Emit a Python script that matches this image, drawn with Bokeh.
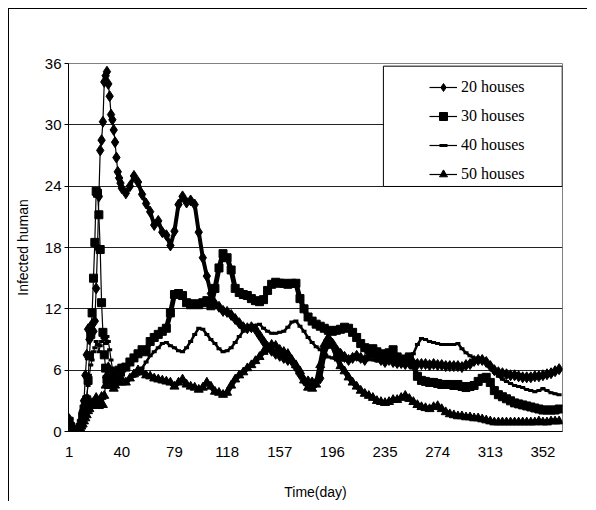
from bokeh.plotting import figure
from bokeh.models import FixedTicker, Legend, LegendItem, BoxAnnotation
from bokeh.embed import file_html
from bokeh.resources import INLINE

# ---- data -------------------------------------------------------------
# daily values for days 1..40, then every third day 43..364
days = list(range(1, 41)) + list(range(43, 365, 3))

houses20 = [
    1.2, 0.6, 0.3, 0.1, 0.0, 0.0, 0.1, 0.2, 0.5, 1.0, 2.0, 3.0, 5.5, 7.5, 10.0, 9.0, 9.5, 10.5, 9.8, 10.8,
    14.0, 18.0, 23.0, 27.5, 28.5, 30.3, 34.2, 34.8, 35.2, 34.0, 32.8, 31.0, 30.5, 29.5, 28.3, 26.8, 25.4, 24.8, 24.3, 23.8,
    23.3, 24.0, 25.0, 24.4, 23.2, 22.3, 21.5, 20.2, 20.6, 19.5, 19.2, 18.2,
    19.6, 22.2, 23.0, 22.4, 22.6, 22.2, 19.5, 17.0, 15.2, 13.5, 12.5, 12.2,
    11.8, 11.7, 11.4, 11.0, 10.6, 10.2, 10.1, 10.2, 10.0, 9.4, 8.8, 8.2,
    7.9, 7.6, 7.4, 7.2, 7.0, 6.9, 6.3, 5.6, 5.0, 4.9, 4.8, 4.8,
    5.2, 7.5, 8.6, 8.6, 8.0, 7.6, 7.3, 7.0, 7.2, 7.4, 7.2, 7.0,
    7.4, 7.6, 7.3, 7.0, 6.8, 7.0, 6.8, 6.7, 6.7, 6.6, 6.7, 6.7,
    6.6, 6.6, 6.6, 6.5, 6.6, 6.5, 6.5, 6.4, 6.4, 6.4, 6.4, 6.3,
    6.5, 6.6, 6.9, 7.0, 7.0, 6.8, 6.4, 6.0, 5.8, 5.7, 5.6, 5.5,
    5.5, 5.4, 5.3, 5.3, 5.3, 5.4, 5.4, 5.5, 5.6, 5.7, 5.9, 6.1,
]

houses30 = [
    1.0, 0.5, 0.2, 0.0, 0.0, 0.0, 0.1, 0.2, 0.4, 0.8, 1.5, 2.2, 2.8, 3.1, 5.0, 7.4, 9.5, 11.6, 15.0, 18.5,
    23.5, 23.3, 21.2, 17.8, 12.6, 9.7, 7.5, 6.2, 5.1, 4.6, 4.8, 5.2, 4.8, 5.3, 5.6, 5.4, 5.8, 6.0, 5.8, 6.2,
    6.3, 6.8, 7.2, 7.6, 8.0, 7.8, 8.8, 9.2, 9.5, 9.8, 10.1, 11.6,
    13.4, 13.5, 13.3, 12.6, 12.4, 12.5, 12.4, 12.6, 12.8, 12.3, 14.0, 16.0,
    17.4, 17.0, 15.8, 14.0, 13.6, 13.4, 13.3, 13.0, 12.8, 12.7, 12.9, 13.8,
    14.4, 14.6, 14.5, 14.5, 14.4, 14.5, 14.5, 13.0, 12.0, 11.2, 10.8, 10.5,
    10.3, 10.1, 9.9, 9.8, 9.9, 10.0, 10.2, 10.1, 9.7, 9.2, 8.6, 8.2,
    8.0, 8.1, 7.8, 7.6, 7.5, 7.7, 8.0, 7.3, 7.0, 7.1, 7.3, 6.5,
    5.4, 5.0, 4.9, 4.8, 4.8, 4.7, 4.6, 4.6, 4.6, 4.5, 4.6, 4.4,
    4.3, 4.4, 4.5, 4.9, 5.2, 5.3, 4.8, 4.0, 3.6, 3.4, 3.2, 3.0,
    2.8, 2.7, 2.6, 2.5, 2.4, 2.3, 2.2, 2.1, 2.1, 2.1, 2.1, 2.2,
]

houses40 = [
    1.0, 0.6, 0.3, 0.1, 0.0, 0.0, 0.1, 0.2, 0.4, 0.7, 1.2, 1.8, 2.5, 3.5, 4.5, 5.5, 6.5, 7.0, 7.8, 8.2,
    8.8, 8.5, 7.8, 8.4, 8.8, 9.2, 9.0, 8.6, 9.3, 8.8, 8.0, 7.0, 6.2, 5.6, 5.2, 5.0, 5.3, 5.6, 5.4, 5.2,
    5.0, 5.2, 5.4, 5.6, 6.2, 6.8, 7.4, 7.8, 8.2, 8.6, 8.7, 8.4,
    8.2, 7.9, 7.8, 8.2, 8.8, 9.5, 10.1, 10.0, 9.5, 9.0, 8.6, 8.1,
    7.8, 7.9, 8.2, 8.7, 9.3, 9.8, 10.2, 10.3, 10.4, 10.5, 10.1, 9.8,
    9.6, 9.6, 9.7, 9.8, 10.2, 10.7, 10.8, 10.3, 9.8, 9.2, 8.7, 8.3,
    8.0, 7.6, 7.3, 7.2, 7.0, 7.0, 7.0, 7.1, 7.2, 7.1, 7.0, 7.0,
    7.1, 7.0, 6.9, 7.0, 7.1, 7.2, 7.3, 7.2, 7.1, 7.2, 7.4, 7.6,
    8.5, 9.1, 9.0, 8.8, 8.7, 8.6, 8.5, 8.5, 8.5, 8.5, 8.6, 8.1,
    7.7, 7.4, 7.2, 7.1, 7.0, 6.7, 6.3, 5.8, 5.4, 5.1, 4.9, 4.7,
    4.5, 4.4, 4.3, 4.1, 4.0, 3.9, 4.0, 4.2, 4.0, 3.8, 3.7, 3.6,
]

houses50 = [
    1.0, 0.6, 0.3, 0.1, 0.0, 0.0, 0.1, 0.2, 0.3, 0.5, 0.7, 1.0, 1.3, 1.6, 2.0, 2.2, 2.5, 2.8, 2.6, 3.0,
    3.3, 2.8, 2.5, 3.0, 3.4, 2.6, 3.5, 4.5, 5.5, 6.3, 6.0, 5.2, 4.6, 4.2, 4.5, 5.0, 4.8, 5.2, 5.0, 4.8,
    4.8, 5.2, 5.6, 6.0, 5.8, 5.5, 5.4, 5.2, 5.1, 5.0, 4.9, 4.8,
    4.4, 4.8, 5.1, 4.6, 4.4, 4.3, 4.1, 4.3, 4.8, 4.4, 3.9, 3.8,
    3.6, 3.8, 4.5, 5.1, 5.5, 5.8, 6.2, 6.5, 6.9, 7.3, 7.8, 8.3,
    8.5, 8.4, 8.0, 7.8, 7.6, 7.0, 6.5, 5.9, 5.0, 4.3, 4.2, 4.6,
    6.5, 8.5, 9.2, 8.4, 7.4, 6.4, 5.9, 5.3, 4.8, 4.4, 4.0, 3.7,
    3.5, 3.3, 3.0, 2.9, 2.8, 2.9, 3.1, 3.1, 3.3, 3.5, 3.2, 2.9,
    2.6, 2.4, 2.3, 2.2, 2.4, 2.5, 2.2, 1.9, 1.7, 1.6, 1.5, 1.5,
    1.4, 1.4, 1.3, 1.3, 1.2, 1.1, 1.0, 0.9, 0.9, 0.9, 0.9, 0.9,
    0.9, 0.9, 0.9, 0.9, 0.9, 0.9, 1.0, 0.9, 0.9, 1.0, 1.0, 1.0,
]

series_names = ["20 houses", "30 houses", "40 houses", "50 houses"]
x_ticks = [1, 40, 79, 118, 157, 196, 235, 274, 313, 352]
y_ticks = [0, 6, 12, 18, 24, 30, 36]

# ---- figure -----------------------------------------------------------
p = figure(width=579, height=493, x_range=(0.5, 366.5), y_range=(0, 36),
           output_backend="svg", toolbar_location=None,
           min_border_left=59, min_border_right=26, min_border_top=54, min_border_bottom=71)
p.styles = {"border-left": "1px solid black", "border-top": "1px solid black",
            "margin-left": "8px", "margin-top": "8px"}

p.background_fill_color = "white"
p.border_fill_color = "white"
p.outline_line_color = "#808080"
p.outline_line_width = 1

p.xgrid.grid_line_color = None
p.ygrid.grid_line_color = "#222222"
p.ygrid.grid_line_width = 1
p.ygrid.ticker = FixedTicker(ticks=y_ticks)

p.xaxis.ticker = FixedTicker(ticks=x_ticks)
p.yaxis.ticker = FixedTicker(ticks=y_ticks)
for ax in (p.xaxis[0], p.yaxis[0]):
    ax.axis_line_color = "black"
    ax.axis_line_width = 1
    ax.minor_tick_line_color = None
    ax.major_label_text_font = "Liberation Sans"
    ax.major_label_text_font_size = "15px"
    ax.major_label_text_color = "black"
    ax.axis_label_text_font = "Liberation Sans"
    ax.axis_label_text_font_size = "14px"
    ax.axis_label_text_font_style = "normal"
    ax.axis_label_text_color = "black"

p.xaxis.major_tick_line_color = None
p.xaxis.major_tick_out = 0
p.xaxis.major_tick_in = 0
p.xaxis.major_label_standoff = 15
p.xaxis.axis_label = "Time(day)"
p.xaxis.axis_label_standoff = 24

p.yaxis.major_tick_line_color = "black"
p.yaxis.major_tick_out = 4
p.yaxis.major_tick_in = 0
p.yaxis.major_label_standoff = 3
p.yaxis.axis_label = "Infected human"
p.yaxis.axis_label_standoff = 11

# ---- series -----------------------------------------------------------
items = []
styles = [
    dict(marker="diamond", size=11, line_width=1, band=4),
    dict(marker="square", size=8, line_width=1, band=5),
    dict(marker="dash", size=5, line_width=3, band=2.5),
    dict(marker="triangle", size=9, line_width=1, band=5),
]
for name, vals, st in zip(series_names, [houses20, houses30, houses40, houses50], styles):
    ln = p.line(days, vals, line_color="black", line_width=1.2)
    # denser, smoother band for the slowly varying part of each series
    p.line(days[39:], vals[39:], line_color="black", line_width=st["band"])
    sc = p.scatter(days, vals, marker=st["marker"], size=st["size"],
                   fill_color="black", line_color="black", line_width=st["line_width"])
    items.append(LegendItem(label=name, renderers=[ln, sc]))

# legend frame (box) drawn separately, legend entries transparent on top
box = BoxAnnotation(left=233.8, right=366.3, bottom=23.97, top=35.74,
                    fill_color="white", fill_alpha=1.0,
                    line_color="black", line_width=1, line_alpha=1.0)
p.add_layout(box)

legend = Legend(items=items, location=(361, 247), orientation="vertical",
                border_line_color=None, background_fill_alpha=0.0,
                padding=0, margin=0, spacing=9,
                glyph_width=28, glyph_height=20, label_height=20, label_standoff=4,
                label_text_font="Liberation Serif", label_text_font_size="16px",
                label_text_color="black")
p.add_layout(legend, "center")

open("out.html", "w").write(file_html(p, INLINE))
